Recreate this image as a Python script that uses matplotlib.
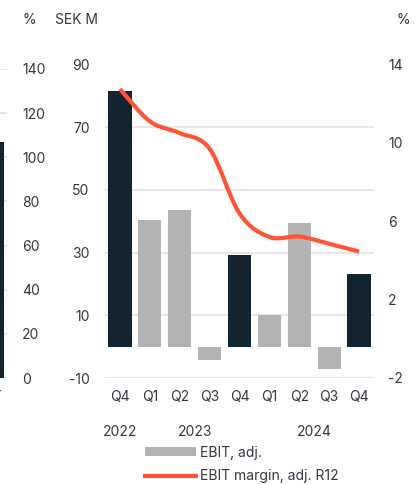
import matplotlib.pyplot as plt
import numpy as np
from matplotlib.lines import Line2D
from matplotlib.patches import Patch, PathPatch
from matplotlib.path import Path

# Quarterly EBIT, adj. (SEK M) and rolling-12 EBIT margin (%)
quarters = ["Q4", "Q1", "Q2", "Q3", "Q4", "Q1", "Q2", "Q3", "Q4"]
years = ["2022", "2023", "2024"]
year_span = [(0, 0), (1, 4), (5, 8)]
ebit_adj = [81.7, 40.5, 43.7, -4.3, 29.3, 10.1, 39.6, -7.2, 23.2]
ebit_margin_r12 = [12.75, 11.1, 10.5, 9.7, 6.4, 5.2, 5.22, 4.85, 4.45]
highlight = [True, False, False, False, True, False, False, False, True]

# neighbouring chart that is cut off at the left edge
prev_value = [107.0]
prev_label = ["Q4"]

W, H = 418, 484
DARK = "#12242f"
GREY = "#b3b3b3"
ORANGE = "#ff5533"
TEXT = "#2f3940"
GRID = "#e3e3e3"

plt.rcParams.update(
    {"font.family": ["Inter", "DejaVu Sans"], "font.size": 10, "axes.unicode_minus": False}
)


def px(l, b, r, t):
    return [l / W, 1 - b / H, (r - l) / W, (b - t) / H]


def bezier_path(xs, ys):
    # Catmull-Rom through the points, as cubic Bezier segments
    n = len(xs)
    verts = [(xs[0], ys[0])]
    codes = [Path.MOVETO]
    for i in range(n - 1):
        x0, y0 = (xs[i - 1], ys[i - 1]) if i > 0 else (xs[i], ys[i])
        x3, y3 = (xs[i + 2], ys[i + 2]) if i + 2 < n else (xs[i + 1], ys[i + 1])
        c1 = (xs[i] + (xs[i + 1] - x0) / 6, ys[i] + (ys[i + 1] - y0) / 6)
        c2 = (xs[i + 1] - (x3 - xs[i]) / 6, ys[i + 1] - (y3 - ys[i]) / 6)
        verts += [c1, c2, (xs[i + 1], ys[i + 1])]
        codes += [Path.CURVE4] * 3
    return Path(verts, codes)


def clean(ax):
    for s in ax.spines.values():
        s.set_visible(False)
    ax.tick_params(length=0, colors=TEXT, labelsize=10)


fig = plt.figure(figsize=(W / 100, H / 100), dpi=100)

# --- partial chart on the left -------------------------------------------
ax0 = fig.add_axes(px(-23, 378, 7, 69))
ax0.bar([0], prev_value, width=0.78, color=DARK, zorder=3)
ax0.set_xlim(-0.5, 0.5)
ax0.set_ylim(0, 140)
ax0.set_yticks(range(0, 141, 20))
ax0.yaxis.tick_right()
ax0.tick_params(axis="y", pad=11)
ax0.set_xticks([0], prev_label)
ax0.tick_params(axis="x", pad=3)
ax0.grid(axis="y", color=GRID, linewidth=1.2, zorder=0)
clean(ax0)
fig.text(22 / W, 1 - 20 / H, "%", ha="left", va="center", color=TEXT, fontsize=10)

# --- main chart ----------------------------------------------------------
ax = fig.add_axes(px(105, 378, 374, 64.5))
x = np.arange(len(quarters))
colors = [DARK if h else GREY for h in highlight]
ax.bar(x, ebit_adj, width=0.78, color=colors, zorder=3)
ax.set_xlim(-0.5, len(quarters) - 0.5)
ax.set_ylim(-10, 90)
ax.set_yticks(range(-10, 91, 20))
ax.set_xticks(x, quarters)
ax.tick_params(axis="y", pad=11)
ax.tick_params(axis="x", pad=9)
ax.grid(axis="y", color=GRID, linewidth=1.2, zorder=0)
clean(ax)

ax2 = ax.twinx()
ax2.set_ylim(-2, 14)
ax2.set_yticks(range(-2, 15, 4))
ax2.tick_params(axis="y", pad=10)
clean(ax2)
ax2.add_patch(
    PathPatch(
        bezier_path(list(x), ebit_margin_r12),
        facecolor="none",
        edgecolor=ORANGE,
        linewidth=3,
        capstyle="butt",
        zorder=4,
    )
)

for label, (a, b) in zip(years, year_span):
    ax.text(
        (a + b) / 2,
        -(432 - 378) / (378 - 64.5),
        label,
        transform=ax.get_xaxis_transform(),
        ha="center",
        va="center",
        color=TEXT,
        fontsize=10,
    )

fig.text(55 / W, 1 - 20 / H, "SEK M", ha="left", va="center", color=TEXT, fontsize=10)
fig.text(396 / W, 1 - 20 / H, "%", ha="left", va="center", color=TEXT, fontsize=10)

handles = [
    Patch(facecolor=GREY, label="EBIT, adj."),
    Line2D([0], [0], color=ORANGE, linewidth=3, label="EBIT margin, adj. R12"),
]
fig.legend(
    handles=handles,
    loc="upper left",
    bbox_to_anchor=(132 / W, 1 - 433 / H),
    frameon=False,
    fontsize=10,
    handlelength=3.7,
    handleheight=0.6,
    handletextpad=0.3,
    labelspacing=0.7,
    labelcolor=TEXT,
)

fig.savefig("out.png", dpi=100)
